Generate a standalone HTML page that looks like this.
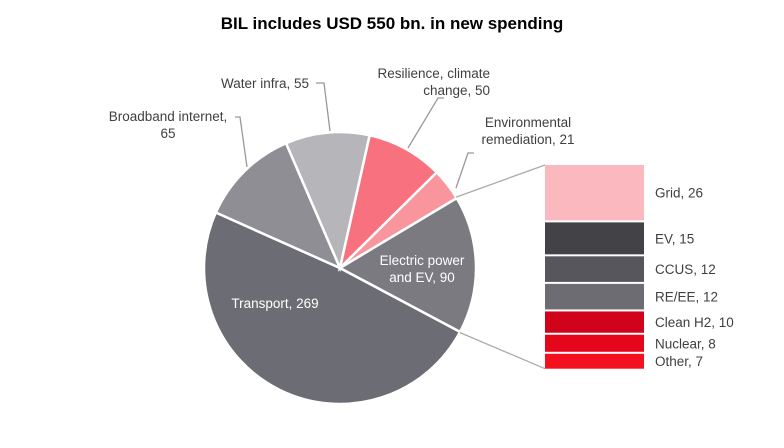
<!DOCTYPE html>
<html><head><meta charset="utf-8"><style>
body{margin:0;background:#fff;}
svg{display:block;font-family:"Liberation Sans",Arial,sans-serif;}
</style></head><body>
<svg width="784" height="448" viewBox="0 0 784 448">
<text x="392" y="29" text-anchor="middle" font-size="17" font-weight="bold" fill="#000">BIL includes USD 550 bn. in new spending</text>
<g id="pie"></g>
<g id="bars"></g>
<g id="labels" font-size="13.5" fill="#404040"></g>
</svg>
<script>
const sliceNames=["Transport","Broadband internet","Water infra","Resilience, climate change","Environmental remediation","Electric power and EV"];
const sliceValues=[269,65,55,50,21,90];
const sliceColors=["#6c6d74","#8f8e94","#b6b5ba","#f8717e","#f9959d","#7b7a81"];
const subNames=["Grid","EV","CCUS","RE/EE","Clean H2","Nuclear","Other"];
const subValues=[26,15,12,12,10,8,7];
const subColors=["#fbb8bf","#434247","#57565c","#6d6c72","#d0031b","#e5061c","#f3101f"];
const NS="http://www.w3.org/2000/svg";
const cx=340,cy=268,r=136,startDeg=28;
const total=sliceValues.reduce((a,b)=>a+b,0);
const pie=document.getElementById('pie');
function pt(deg,rad){const a=deg*Math.PI/180;return [cx+rad*Math.cos(a),cy+rad*Math.sin(a)];}
let acc=startDeg;const angles=[];
sliceValues.forEach((v,i)=>{
  const sweep=v/total*360;const a0=acc,a1=acc+sweep;acc=a1;angles.push([a0,a1]);
  const p0=pt(a0,r),p1=pt(a1,r);
  const path=document.createElementNS(NS,'path');
  path.setAttribute('d',`M${cx},${cy}L${p0[0]},${p0[1]}A${r},${r} 0 ${sweep>180?1:0} 1 ${p1[0]},${p1[1]}Z`);
  path.setAttribute('fill',sliceColors[i]);path.setAttribute('stroke','#fff');path.setAttribute('stroke-width','2.5');
  
  
  pie.appendChild(path);
});
// stacked breakdown
const bars=document.getElementById('bars');
const bx=545,bw=99,by0=165,scale=2.13,gap=2;
let y=by0;const lab=document.getElementById('labels');
subValues.forEach((v,i)=>{
  const h=v*scale;
  const rect=document.createElementNS(NS,'rect');
  rect.setAttribute('x',bx);rect.setAttribute('y',y);rect.setAttribute('width',bw);rect.setAttribute('height',h);
  rect.setAttribute('fill',subColors[i]);
  
  
  bars.appendChild(rect);
  const t=document.createElementNS(NS,'text');
  t.setAttribute('x',655);t.setAttribute('y',y+h/2+5);t.textContent=subNames[i]+',  '+subValues[i];
  
  
  lab.appendChild(t);
  y+=h+gap;
});
const yEnd=y-gap;
// connectors
const e=angles[5];const pa=pt(e[0]+360-0.5,r),pb=pt(e[1]+0.3,r);
[[pb,[bx,yEnd]],[pa,[bx,by0]]].forEach(([p,q])=>{
  const l=document.createElementNS(NS,'line');
  l.setAttribute('x1',p[0]);l.setAttribute('y1',p[1]);l.setAttribute('x2',q[0]);l.setAttribute('y2',q[1]);
  l.setAttribute('stroke','#aaa');l.setAttribute('stroke-width','1.3');
  
  
  bars.appendChild(l);
});
// leader lines
const leaders=[[[247,167],[240,117],[235,117]],[[330,131],[324,83],[316,83]],[[408,148],[438,98],[444,98]],[[456,188],[468,153],[474,153]]];
leaders.forEach(pts=>{
  const pl=document.createElementNS(NS,'polyline');
  pl.setAttribute('points',pts.map(p=>p.join(',')).join(' '));
  pl.setAttribute('fill','none');pl.setAttribute('stroke','#999');pl.setAttribute('stroke-width','1.3');
  
  
  lab.appendChild(pl);
});
function txt(lines,x,y0,anchor,fill,name){
  lines.forEach((s,k)=>{
    const t=document.createElementNS(NS,'text');
    t.setAttribute('x',x);t.setAttribute('y',y0+k*17);t.setAttribute('text-anchor',anchor);
    if(fill)t.setAttribute('fill',fill);t.textContent=s;
    
    
    lab.appendChild(t);
  });
}
txt(["Broadband internet,","65"],168,121,"middle",null,"label-broadband");
txt(["Water infra,  "+sliceValues[2]],265,88,"middle",null,"label-water");
txt(["Resilience, climate","change,  "+sliceValues[3]],490,78,"end",null,"label-resilience");
txt(["Environmental","remediation,  "+sliceValues[4]],528,127,"middle",null,"label-environmental");
txt(["Electric power","and EV,  "+sliceValues[5]],422,265,"middle","#fff","label-electric");
txt(["Transport,  "+sliceValues[0]],275,308,"middle","#fff","label-transport");
</script>
</body></html>
